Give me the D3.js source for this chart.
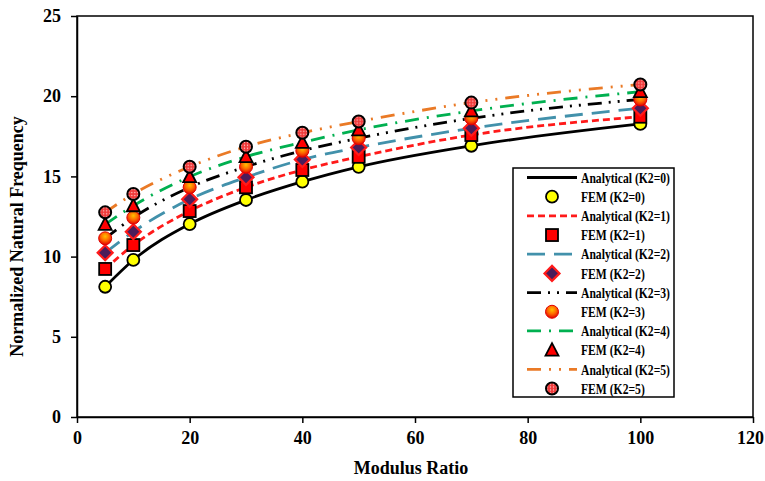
<!DOCTYPE html>
<html>
<head>
<meta charset="utf-8">
<script src="https://cdn.jsdelivr.net/npm/d3@7"></script>
<style>
  body { margin: 0; background: #fff; }
  text { font-family: "Liberation Serif", "Times New Roman", serif; font-weight: bold; }
</style>
</head>
<body>
<div id="chart"></div>
<script>
var svgWidth = 765;
var svgHeight = 481;

var margin = { top: 16, right: 12, bottom: 64, left: 77 };
var width = 753 - margin.left;
var height = 417 - margin.top;

// data
var modulusRatio = [5, 10, 20, 30, 40, 50, 70, 100];
var k2Labels = ["K2=0", "K2=1", "K2=2", "K2=3", "K2=4", "K2=5"];
var freqK0 = [8.12, 9.79, 12.03, 13.53, 14.67, 15.6, 16.91, 18.27];
var freqK1 = [9.23, 10.72, 12.84, 14.32, 15.4, 16.22, 17.58, 18.72];
var freqK2 = [10.24, 11.55, 13.57, 14.94, 16.05, 16.8, 18.0, 19.25];
var freqK3 = [11.14, 12.43, 14.32, 15.6, 16.6, 17.38, 18.62, 19.8];
var freqK4 = [12.01, 13.17, 14.98, 16.23, 17.12, 17.9, 19.08, 20.28];
var freqK5 = [12.76, 13.9, 15.6, 16.85, 17.72, 18.42, 19.6, 20.73];
var xTicks = [0, 20, 40, 60, 80, 100, 120];
var yTicks = [0, 5, 10, 15, 20, 25];

var allFreq = [freqK0, freqK1, freqK2, freqK3, freqK4, freqK5];

var lineStyles = [
  { color: "#000000", dash: null },
  { color: "#ff1a1a", dash: "7,4" },
  { color: "#4291ab", dash: "18,9" },
  { color: "#000000", dash: "14,7,2,7,2,7" },
  { color: "#00b050", dash: "14,8,2,8" },
  { color: "#ea7a26", dash: "14,8,2,8,2,8" }
];

var svg = d3.select("#chart")
  .append("svg")
  .attr("width", svgWidth)
  .attr("height", svgHeight);

var defs = svg.append("defs");
var grad = defs.append("radialGradient")
  .attr("id", "orangeBall")
  .attr("cx", "50%").attr("cy", "35%").attr("r", "65%");
grad.append("stop").attr("offset", "0%").attr("stop-color", "#ffc000");
grad.append("stop").attr("offset", "50%").attr("stop-color", "#ff6a00");
grad.append("stop").attr("offset", "100%").attr("stop-color", "#e00000");

var pat = defs.append("pattern")
  .attr("id", "dotted")
  .attr("patternUnits", "userSpaceOnUse")
  .attr("width", 3).attr("height", 3);
pat.append("rect").attr("width", 3).attr("height", 3).attr("fill", "#f03a3a");
pat.append("circle").attr("cx", 1.5).attr("cy", 1.5).attr("r", 0.7).attr("fill", "#ffd0d0");

var chartGroup = svg.append("g")
  .attr("transform", `translate(${margin.left}, ${margin.top})`);

var xLinearScale = d3.scaleLinear().domain([0, 120]).range([0, width]);
var yLinearScale = d3.scaleLinear().domain([0, 25]).range([height, 0]);

// plot frame
chartGroup.append("rect")
  .attr("width", width)
  .attr("height", height)
  .attr("fill", "none")
  .attr("stroke", "#000")
  .attr("stroke-width", 1.5);

var bottomAxis = d3.axisBottom(xLinearScale).tickValues(xTicks).tickSize(6).tickSizeOuter(0);
var leftAxis = d3.axisLeft(yLinearScale).tickValues(yTicks).tickSize(6).tickSizeOuter(0);

var xAxis = chartGroup.append("g")
  .attr("transform", `translate(0, ${height})`)
  .call(bottomAxis);
var yAxis = chartGroup.append("g").call(leftAxis);

[xAxis, yAxis].forEach(function(ax) {
  ax.select(".domain").attr("stroke", "#000").attr("stroke-width", 1.5);
  ax.selectAll(".tick line").attr("stroke", "#000").attr("stroke-width", 1.5);
  ax.selectAll(".tick text")
    .attr("fill", "#000")
    .style("font-size", "18px")
    .style("font-family", "'Liberation Serif', serif")
    .style("font-weight", "bold");
});
xAxis.selectAll(".tick text").attr("y", 14).attr("dy", "0.71em")
  .attr("x", d => d === 120 ? -3 : 0);
yAxis.selectAll(".tick text").attr("x", -16);

// axis titles
chartGroup.append("text")
  .attr("x", width / 2 - 4)
  .attr("y", height + 57)
  .attr("text-anchor", "middle")
  .style("font-size", "18px")
  .text("Modulus Ratio");

chartGroup.append("text")
  .attr("transform", "rotate(-90)")
  .attr("x", -(height / 2) - 20)
  .attr("y", -54)
  .attr("text-anchor", "middle")
  .style("font-size", "18px")
  .text("Normalized Natural Frequency");

// analytical curves
var line = d3.line()
  .x((d, i) => xLinearScale(modulusRatio[i]))
  .y(d => yLinearScale(d))
  .curve(d3.curveMonotoneX);

allFreq.forEach(function(series, k) {
  chartGroup.append("path")
    .datum(series)
    .attr("d", line)
    .attr("fill", "none")
    .attr("stroke", lineStyles[k].color)
    .attr("stroke-width", 2.8)
    .attr("stroke-dasharray", lineStyles[k].dash);
});

// FEM markers
function drawMarker(g, k) {
  if (k === 0) {
    g.append("circle").attr("r", 6).attr("fill", "#ffff00").attr("stroke", "#000").attr("stroke-width", 1.8);
  } else if (k === 1) {
    g.append("rect").attr("x", -6).attr("y", -6).attr("width", 12).attr("height", 12)
      .attr("fill", "#ff0000").attr("stroke", "#000").attr("stroke-width", 1.8);
  } else if (k === 2) {
    g.append("path").attr("d", "M0,-7.5L7.5,0L0,7.5L-7.5,0Z")
      .attr("fill", "#4b1c5a").attr("stroke", "#ff1a1a").attr("stroke-width", 2.2);
  } else if (k === 3) {
    g.append("circle").attr("r", 6.5).attr("fill", "url(#orangeBall)").attr("stroke", "#e00000").attr("stroke-width", 1);
  } else if (k === 4) {
    g.append("path").attr("d", "M0,-7L6.5,5.5L-6.5,5.5Z")
      .attr("fill", "#ff0000").attr("stroke", "#000").attr("stroke-width", 1.8);
  } else {
    g.append("circle").attr("r", 6).attr("fill", "url(#dotted)").attr("stroke", "#000").attr("stroke-width", 2);
  }
}

allFreq.forEach(function(series, k) {
  series.forEach(function(v, i) {
    var g = chartGroup.append("g")
      .attr("transform", `translate(${xLinearScale(modulusRatio[i])}, ${yLinearScale(v)})`);
    drawMarker(g, k);
  });
});

// legend
var legend = svg.append("g").attr("transform", "translate(513, 168)");
legend.append("rect")
  .attr("width", 161)
  .attr("height", 229)
  .attr("fill", "#fff")
  .attr("stroke", "#000")
  .attr("stroke-width", 1.5);

// reference font is narrower than the local serif, squeeze labels to fit
var legendFont = 15;
var probe = legend.append("text").style("font-size", legendFont + "px").text("Analytical (K2=0)");
var squeeze = Math.min(1, 89 / probe.node().getComputedTextLength());
probe.remove();

function legendText(y, str) {
  var t = legend.append("text")
    .attr("x", 68).attr("y", y).attr("dy", "0.35em")
    .style("font-size", legendFont + "px")
    .text(str);
  t.attr("textLength", t.node().getComputedTextLength() * squeeze)
    .attr("lengthAdjust", "spacingAndGlyphs");
}

k2Labels.forEach(function(lab, k) {
  var yA = 9.5 + k * 2 * 19.18;
  var yF = yA + 19.18;
  legend.append("line")
    .attr("x1", 14).attr("x2", 64)
    .attr("y1", yA).attr("y2", yA)
    .attr("stroke", lineStyles[k].color)
    .attr("stroke-width", 2.8)
    .attr("stroke-dasharray", lineStyles[k].dash);
  legendText(yA, `Analytical (${lab})`);
  drawMarker(legend.append("g").attr("transform", `translate(39, ${yF})`), k);
  legendText(yF, `FEM (${lab})`);
});
</script>
</body>
</html>
